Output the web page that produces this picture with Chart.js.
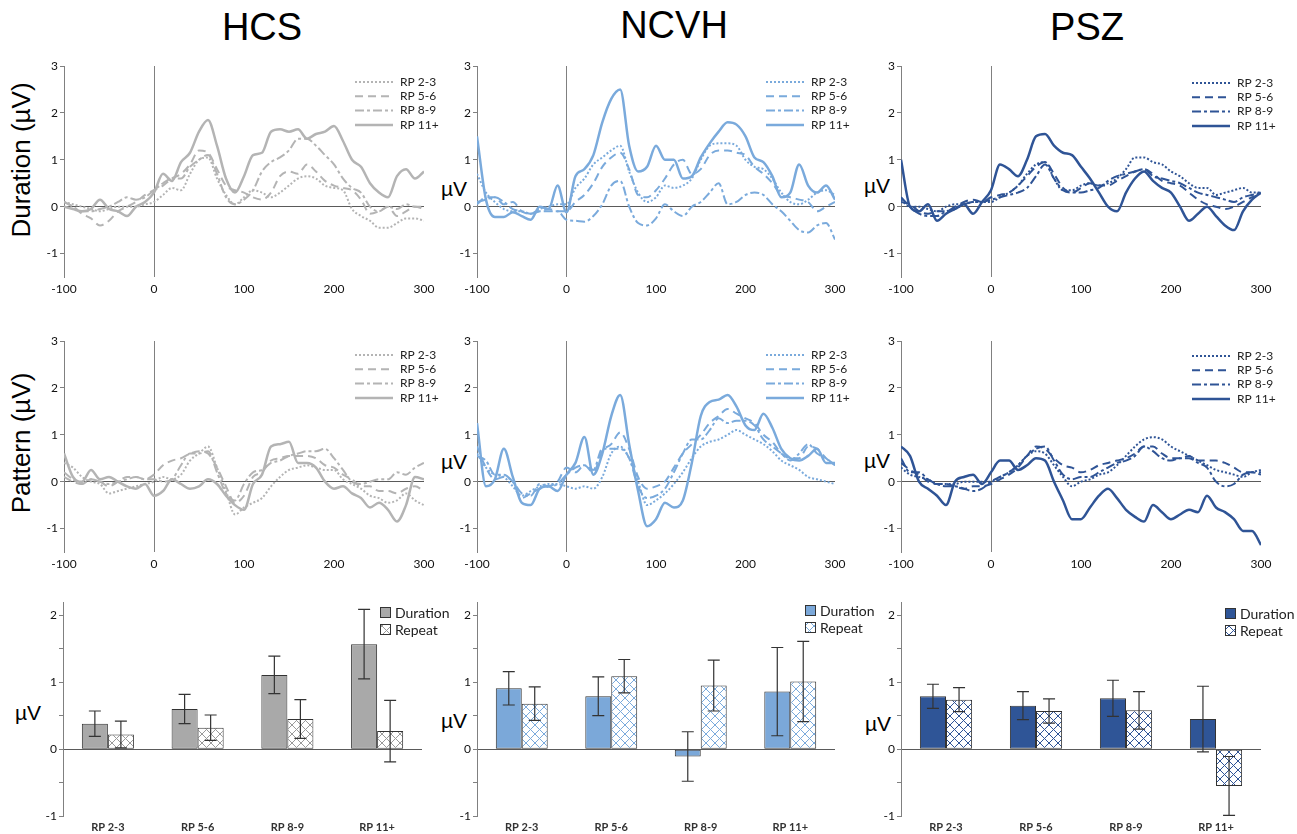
<!DOCTYPE html>
<html>
<head>
<meta charset="utf-8">
<script src="https://cdn.jsdelivr.net/npm/chart.js@4.4.1/dist/chart.umd.min.js"></script>
<style>
  body { margin: 0; background: #fff; width: 1297px; height: 834px; position: relative; overflow: hidden; font-family: 'Liberation Sans', Arial, sans-serif; color: #000; }
  canvas { position: absolute; }
  .title { position: absolute; top: 8px; font-size: 38px; line-height: 38px; transform: translateX(-50%); white-space: nowrap; }
  .ytitle { position: absolute; font-size: 26px; line-height: 26px; white-space: nowrap; transform: translate(-50%, -50%) rotate(-90deg); }
  .uv { position: absolute; font-size: 21px; line-height: 21px; white-space: nowrap; transform: translate(-50%, -50%); }
</style>
</head>
<body>
<div class="title" style="left:262px">HCS</div>
<div class="title" style="left:674px;top:6px">NCVH</div>
<div class="title" style="left:1087px">PSZ</div>

<div class="ytitle" style="left:21px;top:160px">Duration (µV)</div>
<div class="ytitle" style="left:21px;top:443px">Pattern (µV)</div>
<div class="uv" style="left:454px;top:188px">µV</div>
<div class="uv" style="left:877px;top:185px">µV</div>
<div class="uv" style="left:454px;top:461px">µV</div>
<div class="uv" style="left:877px;top:460px">µV</div>
<div class="uv" style="left:28px;top:712px">µV</div>
<div class="uv" style="left:454px;top:720px">µV</div>
<div class="uv" style="left:878px;top:723px">µV</div>

<canvas id="hcsDur"></canvas>
<canvas id="ncvDur"></canvas>
<canvas id="pszDur"></canvas>
<canvas id="hcsPat"></canvas>
<canvas id="ncvPat"></canvas>
<canvas id="pszPat"></canvas>
<canvas id="hcsBar"></canvas>
<canvas id="ncvBar"></canvas>
<canvas id="pszBar"></canvas>

<script>
// Zeitachse in ms
const times = [-100,-90,-80,-70,-60,-50,-40,-30,-20,-10,0,10,20,30,40,50,60,70,80,90,100,110,120,130,140,150,160,170,180,190,200,210,220,230,240,250,260,270,280,290,300];
const rpLabels = ['RP 2-3', 'RP 5-6', 'RP 8-9', 'RP 11+'];
const lineYTicks = [-1, 0, 1, 2, 3];
const barYTicks = [-1, -0.5, 0, 0.5, 1, 1.5, 2];

// HCS - Duration
const hcsDur23 = [0.1,0.05,0.0,-0.05,-0.1,-0.05,0.0,0.0,0.0,0.05,0.1, 0.25,0.4,0.35,0.7,1.0,1.05,0.6,0.25,0.05,0.2, 0.35,0.3,0.2,0.3,0.45,0.6,0.65,0.6,0.45,0.4, 0.35,-0.05,-0.2,-0.3,-0.45,-0.45,-0.35,-0.25,-0.25,-0.3];
const hcsDur56 = [0.1,0.0,-0.15,-0.25,-0.4,-0.3,-0.1,0.0,0.1,0.25,0.35, 0.45,0.6,0.7,0.9,1.2,1.15,0.8,0.45,0.35,0.3, 0.2,0.15,0.3,0.65,0.75,0.7,0.9,0.75,0.55,0.45, 0.4,0.35,0.15,-0.15,-0.1,0.0,-0.2,-0.1,0.0,-0.05];
const hcsDur89 = [0.1,0.0,-0.1,-0.1,-0.05,0.0,0.1,0.2,0.15,0.2,0.35, 0.5,0.6,0.6,0.85,1.0,1.1,0.7,0.2,0.05,0.15, 0.35,0.75,0.95,1.05,1.2,1.45,1.45,1.3,1.1,0.9, 0.6,0.4,0.3,0.0,-0.1,0.0,-0.05,0.05,0.0,0.0];
const hcsDur11 = [0.0,-0.05,-0.1,-0.05,0.15,-0.05,-0.1,-0.2,0.0,0.1,0.3, 0.7,0.55,0.95,1.15,1.6,1.85,1.3,0.6,0.3,0.65, 1.1,1.15,1.6,1.65,1.6,1.65,1.45,1.55,1.6,1.72, 1.4,1.0,0.85,0.5,0.3,0.2,0.65,0.8,0.6,0.75];

// NCVH - Duration
const ncvDur23 = [0.7,0.3,0.1,-0.05,-0.1,-0.1,-0.15,-0.05,0.0,0.05,0.05, 0.4,0.6,0.9,1.05,1.2,1.3,0.75,0.3,0.1,0.2, 0.45,0.4,0.45,0.6,1.0,1.3,1.35,1.35,1.3,1.0, 0.85,0.8,0.6,0.3,0.1,0.05,0.15,0.3,0.35,0.25];
const ncvDur56 = [0.05,0.2,0.2,0.05,0.1,-0.1,-0.15,-0.1,-0.05,-0.1,-0.1, 0.1,0.25,0.5,0.85,1.05,1.15,0.8,0.25,0.2,0.35, 0.6,0.9,1.0,0.7,0.8,1.1,1.2,1.2,1.15,1.1, 0.85,0.7,0.5,0.25,0.2,0.15,0.1,-0.1,0.0,0.1];
const ncvDur89 = [0.1,0.15,0.2,0.1,-0.05,-0.1,-0.15,-0.1,-0.1,-0.1,-0.28, -0.3,-0.32,-0.2,0.05,0.45,0.55,0.0,-0.35,-0.4,-0.25, 0.05,-0.1,-0.2,0.0,0.1,0.3,0.5,0.05,0.1,0.25, 0.3,0.25,0.05,-0.1,-0.3,-0.5,-0.55,-0.4,-0.35,-0.7];
const ncvDur11 = [1.5,0.15,-0.22,-0.22,-0.12,-0.2,-0.28,0.0,-0.05,0.45,-0.12, 0.65,0.8,1.1,1.8,2.3,2.5,1.3,0.75,0.85,1.3, 1.0,1.0,0.6,0.65,1.05,1.35,1.6,1.8,1.75,1.5, 1.05,0.95,0.65,0.2,0.3,0.9,0.45,0.3,0.45,0.15];

// PSZ - Duration
const pszDur23 = [0.15,0.0,0.0,-0.05,-0.1,0.0,0.05,0.05,0.1,0.1,0.1, 0.2,0.3,0.45,0.7,0.9,0.95,0.6,0.35,0.35,0.45, 0.5,0.45,0.5,0.6,0.8,1.05,1.05,0.95,0.9,0.75, 0.65,0.5,0.4,0.4,0.25,0.3,0.35,0.4,0.3,0.3];
const pszDur56 = [0.1,0.05,-0.1,-0.15,-0.1,-0.1,0.0,0.1,0.15,0.1,0.2, 0.25,0.3,0.45,0.65,0.85,0.95,0.7,0.4,0.3,0.4, 0.5,0.45,0.45,0.55,0.65,0.75,0.8,0.7,0.55,0.5, 0.45,0.3,0.15,0.05,0.0,-0.05,0.0,0.1,0.2,0.25];
const pszDur89 = [0.2,0.0,-0.15,-0.2,-0.2,-0.1,-0.05,0.05,0.1,0.1,0.15, 0.2,0.25,0.3,0.4,0.65,0.9,0.6,0.35,0.3,0.3, 0.35,0.4,0.55,0.65,0.7,0.75,0.8,0.65,0.6,0.55, 0.5,0.4,0.3,0.25,0.2,0.15,0.1,0.2,0.25,0.3];
const pszDur11 = [1.0,0.0,-0.1,0.05,-0.3,-0.15,-0.05,0.05,-0.15,0.1,0.35, 0.9,0.8,0.65,1.0,1.5,1.55,1.3,1.15,1.1,0.85, 0.6,0.3,0.0,-0.1,0.3,0.6,0.75,0.55,0.4,0.3, 0.0,-0.3,-0.15,0.0,-0.2,-0.4,-0.5,-0.1,0.15,0.3];

// HCS - Pattern
const hcsPat23 = [0.4,0.3,0.1,0.0,-0.05,-0.25,-0.2,-0.15,-0.1,-0.05,0.0, 0.1,0.05,0.15,0.45,0.6,0.75,0.3,-0.2,-0.7,-0.55, -0.45,-0.35,-0.1,0.1,0.25,0.3,0.35,0.3,0.25,0.25, 0.05,-0.05,-0.15,-0.3,-0.35,-0.45,-0.4,-0.25,-0.4,-0.5];
const hcsPat56 = [0.1,0.0,-0.05,0.05,0.0,-0.1,0.0,0.1,0.1,0.05,0.15, 0.35,0.45,0.5,0.6,0.65,0.6,0.3,-0.1,-0.45,-0.3, 0.1,0.2,0.45,0.5,0.55,0.55,0.55,0.5,0.35,0.3, 0.15,0.05,-0.1,-0.1,-0.2,-0.2,-0.25,-0.15,-0.1,-0.2];
const hcsPat89 = [0.2,0.05,-0.05,0.05,0.0,-0.05,0.0,0.05,0.1,0.05,0.05, 0.0,0.05,0.35,0.6,0.6,0.65,0.2,-0.25,-0.4,-0.05, 0.2,0.25,0.4,0.45,0.55,0.6,0.65,0.65,0.7,0.5, 0.25,0.0,-0.05,0.0,0.05,0.05,0.2,0.15,0.3,0.4];
const hcsPat11 = [0.6,0.1,0.0,0.25,0.05,0.1,0.0,-0.1,-0.15,-0.05,-0.3, -0.2,0.05,-0.05,-0.15,-0.1,0.05,-0.05,-0.3,-0.5,-0.6, -0.05,0.15,0.75,0.8,0.85,0.4,0.4,0.3,0.0,-0.15, -0.1,-0.25,-0.35,-0.55,-0.45,-0.6,-0.85,-0.5,0.1,0.05];

// NCVH - Pattern
const ncvPat23 = [0.6,0.3,0.15,0.1,-0.1,-0.3,-0.2,-0.1,-0.05,-0.05,-0.1, -0.15,-0.1,-0.15,0.1,0.6,0.75,0.5,0.0,-0.5,-0.4, -0.25,-0.05,0.2,0.5,0.75,0.85,0.9,1.0,1.1,1.0, 0.9,0.8,0.65,0.45,0.35,0.25,0.1,0.05,0.0,-0.05];
const ncvPat56 = [0.75,0.3,0.05,0.1,0.0,-0.35,-0.25,-0.15,-0.1,0.0,0.3, 0.2,0.35,0.2,0.65,0.8,1.05,0.7,0.1,-0.15,-0.1, 0.0,0.3,0.6,0.8,1.0,1.25,1.4,1.55,1.45,1.35, 1.25,1.0,0.85,0.6,0.5,0.5,0.75,0.7,0.5,0.35];
const ncvPat89 = [0.55,0.45,0.15,0.15,0.0,-0.25,-0.3,-0.05,-0.1,-0.05,0.15, 0.3,0.35,0.25,0.7,0.7,0.7,0.5,-0.1,-0.35,-0.3, -0.15,0.2,0.6,0.9,0.9,1.1,1.35,1.25,1.3,1.3, 1.2,0.9,0.75,0.6,0.45,0.6,0.8,0.6,0.5,0.35];
const ncvPat11 = [1.25,-0.1,0.05,0.7,0.1,-0.45,-0.5,-0.15,-0.1,-0.2,0.15, 0.4,0.95,0.15,0.6,1.4,1.85,0.8,-0.2,-0.95,-0.8, -0.45,-0.55,-0.4,0.4,1.4,1.7,1.75,1.85,1.6,1.2, 1.1,1.45,1.15,0.7,0.5,0.45,0.55,0.7,0.4,0.4];

// PSZ - Pattern
const pszPat23 = [0.3,0.15,0.1,0.05,-0.05,-0.05,-0.05,0.0,0.0,0.0,0.0, 0.1,0.2,0.35,0.55,0.65,0.6,0.35,0.1,-0.1,0.0, 0.05,0.15,0.2,0.35,0.55,0.75,0.9,0.95,0.9,0.75, 0.65,0.55,0.45,0.35,0.25,0.2,0.15,0.1,0.2,0.25];
const pszPat56 = [0.4,0.25,0.15,0.0,-0.05,-0.05,-0.1,-0.15,-0.1,-0.1,-0.05, 0.05,0.15,0.3,0.55,0.75,0.7,0.5,0.35,0.3,0.2, 0.25,0.35,0.4,0.45,0.5,0.6,0.75,0.75,0.6,0.5, 0.5,0.55,0.45,0.45,0.45,0.4,0.3,0.2,0.2,0.2];
const pszPat89 = [0.5,0.2,0.2,0.05,-0.05,-0.1,-0.1,-0.15,-0.2,-0.15,0.0, 0.1,0.2,0.35,0.55,0.7,0.75,0.45,0.15,0.05,0.1, 0.1,0.2,0.3,0.4,0.45,0.55,0.75,0.65,0.5,0.45, 0.5,0.5,0.4,0.3,0.0,-0.1,-0.05,0.15,0.2,0.15];
const pszPat11 = [0.75,0.55,0.0,-0.15,-0.3,-0.5,0.0,0.1,0.15,-0.05,0.2, 0.45,0.45,0.25,0.35,0.5,0.45,0.0,-0.4,-0.8,-0.8, -0.55,-0.3,-0.15,-0.35,-0.6,-0.75,-0.85,-0.5,-0.65,-0.8, -0.7,-0.6,-0.65,-0.3,-0.55,-0.65,-0.8,-1.05,-1.05,-1.35];

// Balken: Mittelwerte und Fehlerbalken
const barCats = ['RP 2-3', 'RP 5-6', 'RP 8-9', 'RP 11+'];
const hcsDurMean = [0.38, 0.60, 1.11, 1.57];
const hcsDurErr  = [0.19, 0.22, 0.28, 0.52];
const hcsRepMean = [0.22, 0.32, 0.45, 0.27];
const hcsRepErr  = [0.20, 0.19, 0.29, 0.46];
const ncvDurMean = [0.91, 0.79, -0.11, 0.86];
const ncvDurErr  = [0.25, 0.29, 0.37, 0.66];
const ncvRepMean = [0.68, 1.09, 0.95, 1.01];
const ncvRepErr  = [0.25, 0.25, 0.38, 0.60];
const pszDurMean = [0.79, 0.65, 0.76, 0.45];
const pszDurErr  = [0.18, 0.21, 0.27, 0.49];
const pszRepMean = [0.74, 0.57, 0.58, -0.55];
const pszRepErr  = [0.18, 0.18, 0.28, 0.44];

const grayLine = '#b4b4b4', grayBar = '#a9a9a9';
const lightLine = '#7aaadc', lightBar = '#7ba8d9';
const darkLine = '#2f5496', darkBar = '#2f5597';
const axisGray = '#808080';
const transparent = 'rgba(0,0,0,0)';

Chart.defaults.font.family = "Lato, 'Open Sans', sans-serif";
Chart.defaults.color = '#111';

// Linienstile: gepunktet, gestrichelt, Strich-Punkt, durchgezogen
const lineStyles = [
    { dash: [2, 2], width: 2 },
    { dash: [8, 5], width: 2 },
    { dash: [9, 3, 3, 3], width: 2 },
    { dash: [], width: 2.5 }
];

function placeCanvas(id, left, top, w, h) {
    const c = document.getElementById(id);
    c.width = w;
    c.height = h;
    c.style.left = left + 'px';
    c.style.top = top + 'px';
    return c;
}

// Legende oben rechts im Linien-Diagramm
const rpLegend = {
    id: 'rpLegend',
    afterDraw(chart, args, opts) {
        const ctx = chart.ctx, area = chart.chartArea;
        ctx.save();
        ctx.font = '12px Lato, sans-serif';
        ctx.textBaseline = 'middle';
        chart.data.datasets.forEach((ds, i) => {
            const y = area.top + opts.dy + i * 14.3;
            ctx.strokeStyle = ds.borderColor;
            ctx.lineWidth = ds.borderWidth;
            ctx.setLineDash(ds.borderDash);
            ctx.beginPath();
            ctx.moveTo(area.right - 69, y);
            ctx.lineTo(area.right - 31, y);
            ctx.stroke();
            ctx.setLineDash([]);
            ctx.fillStyle = '#222';
            ctx.fillText(ds.label, area.right - 24, y);
        });
        ctx.restore();
    }
};

function lineChart(id, area, color, series, legendDy) {
    const padL = 50, padT = 12, padR = 20, padB = 26;
    const c = placeCanvas(id, area.l - padL, area.t - padT, area.w + padL + padR, area.h + padT + padB);
    new Chart(c, {
        type: 'line',
        data: {
            datasets: series.map((vals, i) => ({
                label: rpLabels[i],
                data: vals.map((v, j) => ({ x: times[j], y: v })),
                borderColor: color,
                borderWidth: lineStyles[i].width,
                borderDash: lineStyles[i].dash,
                pointRadius: 0,
                cubicInterpolationMode: 'monotone',
                fill: false
            }))
        },
        options: {
            responsive: false,
            animation: false,
            layout: { padding: { left: 0, top: padT, right: padR, bottom: 0 } },
            plugins: { legend: { display: false }, tooltip: { enabled: false }, rpLegend: { dy: legendDy } },
            scales: {
                x: {
                    type: 'linear', min: -100, max: 300,
                    afterFit(s) { s.height = padB; },
                    ticks: { stepSize: 100, padding: 5, font: { size: 12 } },
                    grid: { drawTicks: false, color: ctx => (ctx.tick && ctx.tick.value === 0) ? axisGray : transparent },
                    border: { display: false }
                },
                y: {
                    min: -1.5, max: 3,
                    afterFit(s) { s.width = padL; },
                    afterBuildTicks(s) { s.ticks = lineYTicks.map(v => ({ value: v })); },
                    ticks: { padding: 2, font: { size: 12 } },
                    grid: { tickLength: 4, tickColor: axisGray, color: ctx => (ctx.tick && ctx.tick.value === 0) ? '#5a5a5a' : transparent },
                    border: { display: true, color: axisGray }
                }
            }
        },
        plugins: [rpLegend]
    });
}

// Schraffur für "Repeat"
function makeHatch(color) {
    const p = document.createElement('canvas');
    p.width = 9; p.height = 9;
    const g = p.getContext('2d');
    g.fillStyle = '#fff';
    g.fillRect(0, 0, 9, 9);
    g.strokeStyle = color;
    g.lineWidth = 1;
    g.beginPath();
    g.moveTo(0, 0); g.lineTo(9, 9);
    g.moveTo(9, 0); g.lineTo(0, 9);
    g.stroke();
    return g.createPattern(p, 'repeat');
}

const errorBars = {
    id: 'errorBars',
    afterDatasetsDraw(chart) {
        const ctx = chart.ctx, y = chart.scales.y;
        ctx.save();
        ctx.strokeStyle = '#333';
        ctx.lineWidth = 1.2;
        chart.data.datasets.forEach((ds, di) => {
            chart.getDatasetMeta(di).data.forEach((bar, i) => {
                const top = y.getPixelForValue(ds.data[i] + ds.errors[i]);
                const bot = y.getPixelForValue(ds.data[i] - ds.errors[i]);
                ctx.beginPath();
                ctx.moveTo(bar.x, top); ctx.lineTo(bar.x, bot);
                ctx.moveTo(bar.x - 6, top); ctx.lineTo(bar.x + 6, top);
                ctx.moveTo(bar.x - 6, bot); ctx.lineTo(bar.x + 6, bot);
                ctx.stroke();
            });
        });
        ctx.restore();
    }
};

const barLegend = {
    id: 'barLegend',
    afterDraw(chart, args, opts) {
        const ctx = chart.ctx, area = chart.chartArea;
        ctx.save();
        ctx.font = '14px Lato, sans-serif';
        ctx.textBaseline = 'middle';
        chart.data.datasets.forEach((ds, i) => {
            const x = area.right + opts.dx, y = area.top + opts.dy + i * 17;
            ctx.fillStyle = ds.backgroundColor;
            ctx.fillRect(x, y, 10, 10);
            ctx.strokeStyle = '#333';
            ctx.lineWidth = 1;
            ctx.strokeRect(x + 0.5, y + 0.5, 10, 10);
            ctx.fillStyle = '#222';
            ctx.fillText(ds.label, x + 15, y + 6);
        });
        ctx.restore();
    }
};

function barChart(id, area, fill, hatch, durMean, durErr, repMean, repErr, leg) {
    const padL = 50, padT = 12, padR = 40, padB = 18;
    const c = placeCanvas(id, area.l - padL, area.t - padT, area.w + padL + padR, area.h + padT + padB);
    const common = { borderColor: '#333', borderWidth: 1, borderSkipped: false, categoryPercentage: 0.58, barPercentage: 1.0 };
    new Chart(c, {
        type: 'bar',
        data: {
            labels: barCats,
            datasets: [
                Object.assign({ label: 'Duration', data: durMean, errors: durErr, backgroundColor: fill }, common),
                Object.assign({ label: 'Repeat', data: repMean, errors: repErr, backgroundColor: makeHatch(hatch) }, common)
            ]
        },
        options: {
            responsive: false,
            animation: false,
            layout: { padding: { left: 0, top: padT, right: padR, bottom: 0 } },
            plugins: { legend: { display: false }, tooltip: { enabled: false }, barLegend: leg },
            scales: {
                x: {
                    afterFit(s) { s.height = padB; },
                    grid: { display: false, drawTicks: false },
                    border: { display: false },
                    ticks: { padding: 5, font: { size: 11, weight: 'bold' }, color: '#333' }
                },
                y: {
                    min: -1, max: 2.2,
                    afterFit(s) { s.width = padL; },
                    afterBuildTicks(s) { s.ticks = barYTicks.map(v => ({ value: v })); },
                    ticks: { padding: 2, font: { size: 12 }, callback: v => Number.isInteger(v) ? v : '' },
                    grid: { tickLength: 4, tickColor: axisGray, color: ctx => (ctx.tick && ctx.tick.value === 0) ? '#5a5a5a' : transparent },
                    border: { display: true, color: axisGray }
                }
            }
        },
        plugins: [errorBars, barLegend]
    });
}

// Zeile 1: Duration
lineChart('hcsDur', { l: 64, t: 66, w: 360, h: 211 }, grayLine, [hcsDur23, hcsDur56, hcsDur89, hcsDur11], 16);
lineChart('ncvDur', { l: 477, t: 66, w: 358, h: 211 }, lightLine, [ncvDur23, ncvDur56, ncvDur89, ncvDur11], 16);
lineChart('pszDur', { l: 901, t: 66, w: 360, h: 211 }, darkLine, [pszDur23, pszDur56, pszDur89, pszDur11], 17);

// Zeile 2: Pattern
lineChart('hcsPat', { l: 64, t: 341, w: 360, h: 211 }, grayLine, [hcsPat23, hcsPat56, hcsPat89, hcsPat11], 14);
lineChart('ncvPat', { l: 477, t: 341, w: 358, h: 211 }, lightLine, [ncvPat23, ncvPat56, ncvPat89, ncvPat11], 14);
lineChart('pszPat', { l: 901, t: 341, w: 360, h: 211 }, darkLine, [pszPat23, pszPat56, pszPat89, pszPat11], 15);

// Zeile 3: Balken
barChart('hcsBar', { l: 63, t: 602, w: 359, h: 214 }, grayBar, '#9a9a9a', hcsDurMean, hcsDurErr, hcsRepMean, hcsRepErr, { dx: -42, dy: 5 });
barChart('ncvBar', { l: 477, t: 602, w: 358, h: 214 }, lightBar, lightLine, ncvDurMean, ncvDurErr, ncvRepMean, ncvRepErr, { dx: -30, dy: 3 });
barChart('pszBar', { l: 901, t: 602, w: 360, h: 214 }, darkBar, darkLine, pszDurMean, pszDurErr, pszRepMean, pszRepErr, { dx: -36, dy: 6 });
</script>
</body>
</html>
